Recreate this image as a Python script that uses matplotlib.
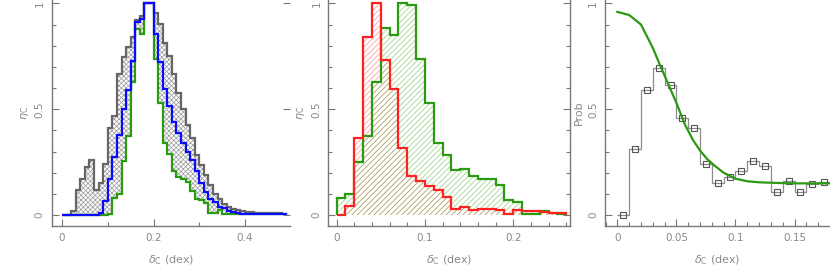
import numpy as np
import matplotlib
matplotlib.use("Agg")
import matplotlib.pyplot as plt
from matplotlib.ticker import MultipleLocator

plt.rcParams['font.family'] = ['DejaVu Sans']
plt.rcParams['hatch.linewidth'] = 0.55

# ---- datos ----
ancho = 0.01

# panel izquierdo: eta_C por bin de 0.01 dex
gris = [0, 0, 0.02, 0.12, 0.17, 0.225, 0.26, 0.118, 0.15, 0.24,
        0.41, 0.47, 0.665, 0.745, 0.795, 0.84, 0.92, 0.94, 1.0, 1.0,
        0.955, 0.905, 0.815, 0.75, 0.665, 0.575, 0.5, 0.425, 0.362, 0.285,
        0.235, 0.189, 0.142, 0.102, 0.075, 0.052, 0.04, 0.03, 0.024, 0.018,
        0.015, 0.013, 0.012, 0.011, 0.011, 0.01, 0.01, 0.01]
azul = [0, 0, 0, 0, 0, 0, 0, 0, 0.01, 0.065,
        0.17, 0.275, 0.38, 0.5, 0.59, 0.73, 0.91, 0.925, 1.0, 1.0,
        0.855, 0.725, 0.595, 0.515, 0.44, 0.39, 0.34, 0.30, 0.26, 0.21,
        0.153, 0.11, 0.075, 0.063, 0.04, 0.032, 0.02, 0.013, 0.008, 0.005,
        0.005, 0.005, 0.005, 0.005, 0.005, 0.005, 0.005, 0.005, 0.005]
verde1 = [0, 0, 0, 0, 0, 0, 0, 0, 0, 0,
          0.005, 0.083, 0.10, 0.255, 0.373, 0.63, 0.88, 0.855, 1.0, 1.0,
          0.735, 0.53, 0.34, 0.29, 0.21, 0.18, 0.17, 0.157, 0.113, 0.075,
          0.07, 0.055, 0.008, 0.008, 0.025, 0.005, 0.005, 0.005, 0.005, 0.005,
          0.005, 0.005, 0.005, 0.005, 0.005, 0.005, 0.005, 0.005, 0.005]

# panel central
rojo = [0, 0.044, 0.362, 0.843, 1.0, 0.732, 0.594, 0.315, 0.184, 0.16,
        0.139, 0.118, 0.087, 0.027, 0.04, 0.025, 0.03, 0.031, 0.024, 0.006,
        0.025, 0.018, 0.018, 0.014, 0.012, 0.008]
verde2 = [0.079, 0.1, 0.252, 0.373, 0.63, 0.882, 0.853, 1.0, 0.992, 0.737,
          0.528, 0.342, 0.283, 0.213, 0.217, 0.186, 0.17, 0.17, 0.142, 0.071,
          0.06, 0.005, 0.005, 0.019, 0.008, 0.003]

# panel derecho: probabilidad por bin y curva ajustada
prob = [0.0, 0.312, 0.59, 0.693, 0.614, 0.457, 0.413, 0.241, 0.153, 0.181,
        0.209, 0.257, 0.233, 0.107, 0.162, 0.107, 0.145, 0.157]
curva_x = [0, 0.01, 0.02, 0.03, 0.036, 0.043, 0.05, 0.057, 0.064, 0.07,
           0.076, 0.082, 0.09, 0.1, 0.11, 0.12, 0.135, 0.15, 0.165, 0.18]
curva_y = [0.96, 0.945, 0.9, 0.79, 0.71, 0.62, 0.53, 0.43, 0.355, 0.305,
           0.265, 0.235, 0.2, 0.172, 0.16, 0.155, 0.152, 0.15, 0.15, 0.15]

GRIS_TXT = '#8a8a8a'
GRIS_EJE = '#777777'
C_VERDE = '#2a9a10'
LW = 1.6


def estilo(ax, xlim, xmayor, xmenor, ylabel, derecha=False, espina_der=False):
    ax.set_xlim(*xlim)
    ax.set_ylim(-0.05, 1.016)
    ax.xaxis.set_major_locator(MultipleLocator(xmayor))
    ax.xaxis.set_minor_locator(MultipleLocator(xmenor))
    ax.yaxis.set_major_locator(MultipleLocator(0.5))
    ax.yaxis.set_minor_locator(MultipleLocator(0.1))
    ax.set_yticks([0, 0.5, 1])
    ax.set_yticklabels(['0', '0.5', '1'])
    for s in ['top', 'right']:
        ax.spines[s].set_visible(False)
    if espina_der:
        ax.spines['right'].set_visible(True)
    for s in ax.spines.values():
        s.set_color(GRIS_EJE)
        s.set_linewidth(1.0)
    ax.tick_params(which='both', direction='in', color=GRIS_EJE,
                   labelcolor=GRIS_TXT, labelsize=7.5, top=False,
                   right=derecha)
    ax.tick_params(which='major', length=5, width=0.8)
    ax.tick_params(which='minor', length=3, width=0.8)
    if derecha and not espina_der:
        ax.tick_params(which='minor', right=False)
    ax.tick_params(axis='y', labelrotation=90, pad=5)
    ax.tick_params(axis='x', pad=5)
    for lab in ax.get_yticklabels():
        lab.set_va('center')
    ax.set_xlabel(r'$\delta_{\rm C}$ (dex)', color=GRIS_TXT, fontsize=8, labelpad=8)
    ax.set_ylabel(ylabel, color=GRIS_TXT, fontsize=8, labelpad=3)


fig = plt.figure(figsize=(8.30, 2.79), dpi=100)
ax1 = fig.add_axes([0.0623, 0.191, 0.287, 0.809])
ax2 = fig.add_axes([0.3955, 0.191, 0.291, 0.809])
ax3 = fig.add_axes([0.729, 0.191, 0.271, 0.809])

# ---- panel 1 ----
b_gris = np.arange(len(gris) + 1) * ancho
b_azul = np.arange(len(azul) + 1) * ancho
gris_ext = np.append(gris, 0.0)
ax1.stairs(np.maximum(gris_ext, verde1), b_azul, baseline=np.array(verde1),
           fill=True, facecolor='none', edgecolor='#a0a0a0', linewidth=0,
           hatch='xxxxxxx')
ax1.stairs(gris, b_gris, color='#666666', linewidth=LW)
ax1.stairs(verde1, b_azul, color=C_VERDE, linewidth=LW)
ax1.stairs(azul, b_azul, color='#0a0aff', linewidth=LW)
estilo(ax1, (-0.0225, 0.498), 0.2, 0.1, r'$\eta_{\rm C}$', derecha=True)

# ---- panel 2 ----
b2 = np.arange(len(rojo) + 1) * ancho
solape = np.minimum(rojo, verde2)
ax2.stairs(verde2, b2, fill=True, facecolor='none', edgecolor='#9ad488',
           linewidth=0, hatch='//////')
ax2.stairs(rojo, b2, fill=True, facecolor='none', edgecolor='#ff9a9a',
           linewidth=0, hatch='//////')
ax2.stairs(solape, b2, fill=True, facecolor='white', edgecolor='#a89858',
           linewidth=0, hatch='//////')
ax2.stairs(verde2, b2, color=C_VERDE, linewidth=LW)
ax2.stairs(rojo, b2, color='#ff2020', linewidth=LW)
estilo(ax2, (-0.0095, 0.264), 0.1, 0.02, r'$\eta_{\rm C}$', derecha=True,
       espina_der=True)

# ---- panel 3 ----
b3 = np.arange(len(prob) + 1) * ancho
centros = b3[:-1] + ancho / 2
ax3.stairs(prob, b3, baseline=None, color='#8c8c8c', linewidth=0.9)
ax3.plot(centros, prob, 's', mfc='none', mec='#555555', mew=0.8, ms=4.5)
ax3.plot(curva_x, curva_y, color=C_VERDE, linewidth=LW)
estilo(ax3, (-0.0104, 0.180), 0.05, 0.01, 'Prob')
ax3.set_xticks([0, 0.05, 0.1, 0.15])
ax3.set_xticklabels(['0', '0.05', '0.1', '0.15'])
ax1.set_xticks([0, 0.2, 0.4])
ax1.set_xticklabels(['0', '0.2', '0.4'])
ax2.set_xticks([0, 0.1, 0.2])
ax2.set_xticklabels(['0', '0.1', '0.2'])

fig.savefig('out.png', dpi=100)
plt.close(fig)
